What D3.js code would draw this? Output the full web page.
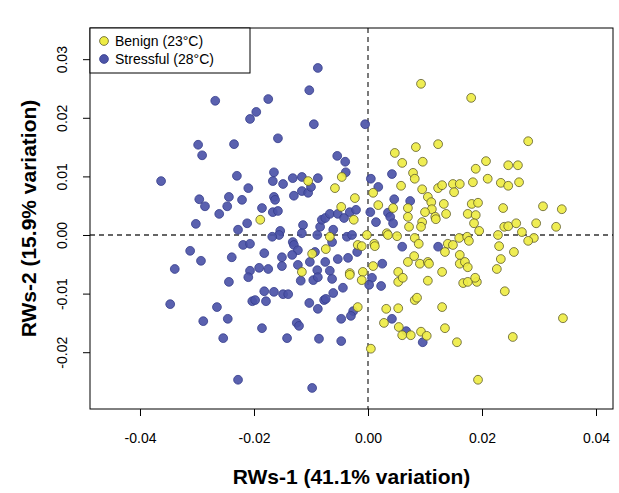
<!DOCTYPE html>
<html><head><meta charset="utf-8">
<script src="https://cdn.jsdelivr.net/npm/d3@7/dist/d3.min.js"></script>
<style>body{margin:0;background:#fff}svg{display:block}text{font-family:"Liberation Sans",Arial,sans-serif}</style>
</head><body><svg id="c" width="619" height="493"></svg>
<script>
const xTicks = [-0.04, -0.02, 0.00, 0.02, 0.04];
const yTicks = [-0.02, -0.01, 0.00, 0.01, 0.02, 0.03];
const xTickLabels = ["-0.04", "-0.02", "0.00", "0.02", "0.04"];
const yTickLabels = ["-0.02", "-0.01", "0.00", "0.01", "0.02", "0.03"];
const seriesNames = ["Benign (23°C)", "Stressful (28°C)"];
const xTitle = "RWs-1 (41.1% variation)";
const yTitle = "RWs-2 (15.9% variation)";

const stressX = [-0.0268,-0.0207,-0.0196,-0.0298,-0.0235,-0.0291,-0.0088,-0.0103,-0.0175,-0.0095,-0.0158,-0.0054,-0.0040,-0.0005,
-0.0363,-0.0230,-0.0210,-0.0296,-0.0286,-0.0244,-0.0247,-0.0221,-0.0261,-0.0302,-0.0212,-0.0228,-0.0219,-0.0207,-0.0312,-0.0293,-0.0239,-0.0339,-0.0207,
-0.0165,-0.0167,-0.0149,-0.0132,-0.0116,-0.0088,-0.0039,-0.0130,-0.0116,-0.0105,-0.0100,-0.0165,-0.0163,-0.0186,-0.0167,-0.0158,-0.0114,-0.0154,-0.0156,-0.0168,-0.0116,-0.0089,-0.0084,-0.0081,-0.0075,-0.0061,-0.0067,-0.0053,-0.0042,-0.0032,-0.0021,-0.0037,-0.0028,-0.0063,-0.0132,-0.0130,-0.0123,-0.0182,-0.0151,-0.0133,-0.0093,-0.0075,-0.0053,-0.0035,-0.0019,-0.0191,-0.0175,-0.0151,-0.0123,-0.0102,-0.0089,-0.0067,
0.0005,0.0042,0.0018,0.0046,0.0074,0.0004,0.0035,0.0039,0.0044,0.0014,0.0060,0.0123,0.0025,
-0.0244,-0.0210,-0.0203,-0.0347,-0.0265,-0.0289,-0.0246,-0.0254,-0.0228,
-0.0118,-0.0096,-0.0088,-0.0063,-0.0044,-0.0182,-0.0165,-0.0149,-0.0140,-0.0179,-0.0198,-0.0103,-0.0088,-0.0077,-0.0074,-0.0061,-0.0026,-0.0030,-0.0047,-0.0186,-0.0125,-0.0121,-0.0142,-0.0086,-0.0047,-0.0098,
0.0007,0.0002,0.0023,0.0042,0.0067,0.0096];
const stressY = [0.0229,0.0198,0.0210,0.0154,0.0155,0.0136,0.0285,0.0247,0.0232,0.0189,0.0165,0.0135,0.0125,0.0189,
0.0092,0.0101,0.0080,0.0061,0.0049,0.0065,0.0049,0.0060,0.0036,0.0019,0.0020,0.0009,-0.0017,-0.0015,-0.0027,-0.0044,-0.0038,-0.0058,-0.0061,
0.0107,0.0092,0.0087,0.0097,0.0099,0.0097,0.0107,0.0067,0.0075,0.0072,0.0082,0.0065,0.0060,0.0046,0.0039,0.0041,0.0017,0.0007,0.0000,-0.0003,0.0003,0.0000,0.0014,0.0026,0.0029,0.0009,0.0036,0.0036,0.0029,0.0039,0.0043,-0.0003,0.0000,-0.0012,-0.0012,-0.0017,-0.0026,-0.0031,-0.0038,-0.0034,-0.0029,-0.0046,-0.0041,-0.0039,-0.0029,-0.0056,-0.0058,-0.0053,-0.0051,-0.0046,-0.0060,-0.0061,
0.0096,0.0104,0.0082,0.0061,0.0058,0.0039,0.0038,0.0031,0.0020,0.0022,-0.0020,-0.0020,-0.0049,
-0.0080,-0.0072,-0.0113,-0.0118,-0.0123,-0.0147,-0.0143,-0.0176,-0.0247,
-0.0078,-0.0077,-0.0072,-0.0075,-0.0090,-0.0096,-0.0097,-0.0101,-0.0101,-0.0113,-0.0111,-0.0116,-0.0126,-0.0111,-0.0109,-0.0099,-0.0130,-0.0138,-0.0143,-0.0159,-0.0150,-0.0155,-0.0176,-0.0177,-0.0181,-0.0261,
-0.0073,-0.0085,-0.0087,-0.0143,-0.0164,-0.0183];

const benignX = [0.0093,0.0047,0.0084,0.0123,0.0060,0.0096,0.0181,0.0281,0.0207,
-0.0105,-0.0046,-0.0058,-0.0023,-0.0047,-0.0189,-0.0025,-0.0067,-0.0074,-0.0098,-0.0018,-0.0116,-0.0032,
0.0079,0.0082,0.0058,0.0095,0.0123,0.0130,0.0149,0.0151,0.0161,0.0009,0.0018,0.0044,0.0070,0.0070,0.0072,0.0105,0.0111,0.0112,0.0100,0.0118,0.0119,0.0095,0.0093,0.0133,0.0137,
-0.0002,0.0033,0.0035,0.0051,0.0082,0.0089,0.0011,0.0012,-0.0011,0.0140,0.0149,0.0160,0.0135,0.0161,0.0081,0.0070,0.0091,0.0105,0.0107,0.0161,0.0009,0.0053,0.0130,-0.0009,
0.0189,0.0246,0.0263,0.0184,0.0210,0.0233,0.0246,0.0265,0.0182,0.0193,0.0237,0.0307,0.0340,0.0175,0.0189,0.0186,0.0195,0.0239,0.0246,0.0260,0.0295,0.0330,0.0270,0.0228,0.0174,0.0177,0.0291,0.0281,0.0230,0.0256,0.0233,0.0170,0.0175,0.0226,
-0.0032,-0.0018,
-0.0011,0.0053,0.0061,0.0105,0.0167,0.0082,0.0086,0.0130,0.0032,0.0053,0.0028,0.0054,0.0060,0.0075,0.0093,0.0103,0.0135,0.0156,0.0005,
0.0175,0.0191,0.0188,0.0240,0.0342,0.0254,0.0193];
const benignY = [0.0258,0.0140,0.0150,0.0155,0.0123,0.0125,0.0234,0.0160,0.0126,
0.0092,0.0099,0.0080,0.0063,0.0048,0.0026,0.0026,-0.0003,-0.0024,-0.0032,-0.0017,-0.0063,-0.0065,
0.0106,0.0096,0.0084,0.0078,0.0080,0.0085,0.0087,0.0073,0.0087,0.0072,0.0051,0.0046,0.0046,0.0031,0.0014,0.0065,0.0056,0.0044,0.0039,0.0031,0.0027,0.0022,0.0014,0.0053,0.0036,
0.0000,0.0003,0.0000,-0.0002,-0.0005,-0.0015,-0.0015,-0.0019,-0.0019,-0.0015,-0.0017,-0.0005,-0.0029,-0.0034,-0.0036,-0.0046,-0.0049,-0.0046,-0.0049,-0.0049,-0.0053,-0.0063,-0.0063,-0.0063,
0.0113,0.0119,0.0119,0.0090,0.0096,0.0089,0.0084,0.0090,0.0053,0.0055,0.0046,0.0049,0.0044,0.0036,0.0034,0.0020,0.0007,0.0014,0.0015,0.0020,0.0020,0.0014,0.0005,0.0000,-0.0003,-0.0010,-0.0005,-0.0010,-0.0019,-0.0029,-0.0041,-0.0046,-0.0055,-0.0058,
-0.0068,-0.0123,
-0.0077,-0.0080,-0.0073,-0.0078,-0.0082,-0.0111,-0.0107,-0.0123,-0.0126,-0.0125,-0.0150,-0.0157,-0.0171,-0.0171,-0.0165,-0.0172,-0.0159,-0.0183,-0.0194,
-0.0080,-0.0080,-0.0073,-0.0096,-0.0142,-0.0174,-0.0247];

const svg = d3.select("#c");
const L = 90, R = 613, T = 28, B = 409;
const x = d3.scaleLinear().domain([-0.04877, 0.04298]).range([L, R]);
const y = d3.scaleLinear().domain([-0.02969, 0.03532]).range([B, T]);

// zero lines
svg.append("line").attr("x1", x(0)).attr("x2", x(0)).attr("y1", T).attr("y2", B)
  .attr("stroke", "#333").attr("stroke-width", 1.3).attr("stroke-dasharray", "5,4");
svg.append("line").attr("x1", L).attr("x2", R).attr("y1", y(0)).attr("y2", y(0))
  .attr("stroke", "#333").attr("stroke-width", 1.3).attr("stroke-dasharray", "5,4");

const blueFill = "#4c54a8", blueStroke = "#363d8c";
const yelFill = "#eeec44", yelStroke = "#5e5c2c";
const pr = 4.4;

const stress = stressX.map((v, i) => [v, stressY[i]]);
const benign = benignX.map((v, i) => [v, benignY[i]]);

svg.append("g").selectAll("circle").data(stress).join("circle")
  .attr("cx", d => x(d[0])).attr("cy", d => y(d[1])).attr("r", pr)
  .attr("fill", blueFill).attr("fill-opacity", 0.92).attr("stroke", blueStroke).attr("stroke-width", 0.8);
svg.append("g").selectAll("circle").data(benign).join("circle")
  .attr("cx", d => x(d[0])).attr("cy", d => y(d[1])).attr("r", pr)
  .attr("fill", yelFill).attr("fill-opacity", 0.92).attr("stroke", yelStroke).attr("stroke-width", 0.8);

// axes
const xAxis = d3.axisBottom(x).tickValues(xTicks).tickFormat((d, i) => xTickLabels[i]).tickSize(7).tickSizeOuter(0).tickPadding(17);
const gx = svg.append("g").attr("transform", `translate(0,${B})`).call(xAxis);
gx.select(".domain").remove();
gx.selectAll("line").attr("stroke", "#000");
gx.selectAll("text").attr("font-size", 14).attr("fill", "#000");

const yAxis = d3.axisLeft(y).tickValues(yTicks).tickFormat((d, i) => yTickLabels[i]).tickSize(7).tickSizeOuter(0);
const gy = svg.append("g").attr("transform", `translate(${L},0)`).call(yAxis);
gy.select(".domain").remove();
gy.selectAll("line").attr("stroke", "#000");
gy.selectAll("text").attr("font-size", 14).attr("fill", "#000")
  .attr("text-anchor", "middle").attr("dy", null).attr("x", null)
  .attr("transform", d => `translate(-28,0) rotate(-90)`)
  .attr("dominant-baseline", "central");

// box
svg.append("rect").attr("x", L).attr("y", T).attr("width", R - L).attr("height", B - T)
  .attr("fill", "none").attr("stroke", "#000").attr("stroke-width", 1);

// titles
svg.append("text").attr("x", (L + R) / 2).attr("y", 484).attr("text-anchor", "middle")
  .attr("font-size", 21).attr("font-weight", "bold").text(xTitle);
svg.append("text").attr("transform", `translate(36,${(T + B) / 2}) rotate(-90)`).attr("text-anchor", "middle")
  .attr("font-size", 21).attr("font-weight", "bold").text(yTitle);

// legend
const lg = svg.append("g");
lg.append("rect").attr("x", L).attr("y", T).attr("width", 160).attr("height", 45)
  .attr("fill", "#fff").attr("stroke", "#000").attr("stroke-width", 1);
const lfill = [[yelFill, yelStroke], [blueFill, blueStroke]];
seriesNames.forEach((n, i) => {
  const yy = T + 13 + i * 18;
  lg.append("circle").attr("cx", L + 14).attr("cy", yy).attr("r", pr)
    .attr("fill", lfill[i][0]).attr("stroke", lfill[i][1]).attr("stroke-width", 0.8);
  lg.append("text").attr("x", L + 25).attr("y", yy).attr("dominant-baseline", "central")
    .attr("font-size", 14).text(n);
});
</script></body></html>
